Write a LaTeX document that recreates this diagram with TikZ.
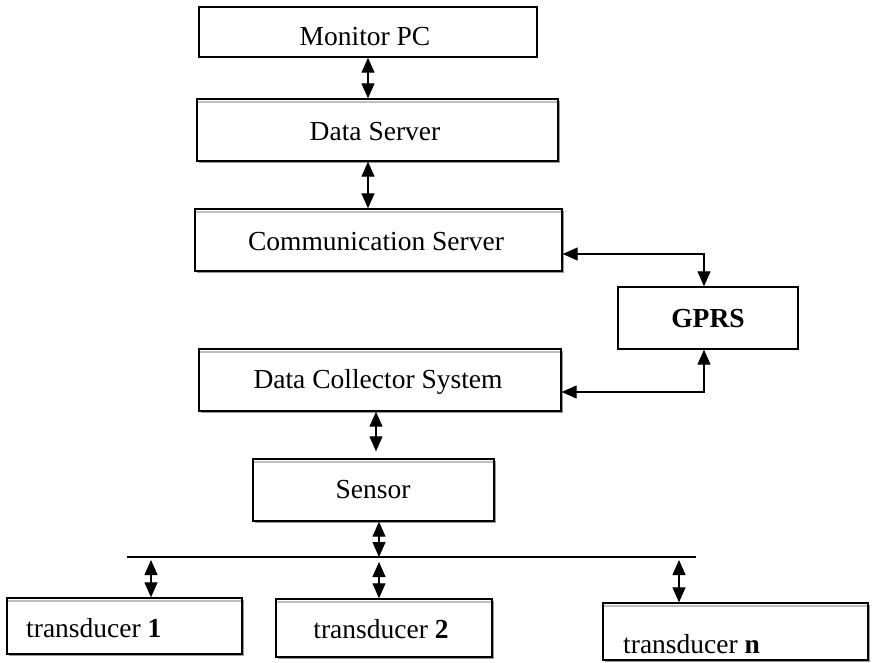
\documentclass[tikz,border=0pt]{standalone}
\usepackage{fontspec}
\setmainfont{Liberation Serif}
\usetikzlibrary{arrows.meta,shadows}

\tikzset{
  box/.style={draw, fill=white, line width=1.4pt, inner sep=0pt},
  shadedbox/.style={box,
    drop shadow={shadow xshift=1.6pt, shadow yshift=-1.6pt, fill=black!40, opacity=1},
    path picture={\draw[black!25, line width=1.4pt]
      ([yshift=-3pt]path picture bounding box.north west) --
      ([yshift=-3pt]path picture bounding box.north east);}},
  lbl/.style={font=\fontsize{27.5}{30}\selectfont, inner sep=0pt},
  dbl/.style={{Triangle[length=15pt,width=13pt]}-{Triangle[length=15pt,width=13pt]},
    line width=1.2pt},
  wire/.style={line width=1.2pt}
}

\begin{document}
\begin{tikzpicture}[x=1pt, y=-1pt]
  \useasboundingbox (0,0) rectangle (872,663);

  % boxes
  \node[box, minimum width=338pt, minimum height=50pt] (mon) at (368,32) {};
  \node[shadedbox, minimum width=361pt, minimum height=62pt] (ds) at (377.5,130) {};
  \node[shadedbox, minimum width=367pt, minimum height=62pt] (cs) at (378.5,240) {};
  \node[box, minimum width=180pt, minimum height=62pt] (gprs) at (708,318) {};
  \node[shadedbox, minimum width=362pt, minimum height=62pt] (dcs) at (380,380) {};
  \node[shadedbox, minimum width=241pt, minimum height=62pt] (sen) at (373.5,490) {};
  \node[shadedbox, minimum width=235pt, minimum height=56pt] (t1) at (124.5,626) {};
  \node[shadedbox, minimum width=216pt, minimum height=58pt] (t2) at (384,628) {};
  \node[shadedbox, minimum width=265pt, minimum height=57pt] (tn) at (735.5,631.5) {};

  % labels
  \node[lbl, anchor=base] (monT) at (365,46) {Monitor PC};
  \node[lbl, anchor=base] (dsT) at (375,141) {Data Server};
  \node[lbl, anchor=base] (csT) at (376,250) {Communication Server};
  \node[lbl, anchor=base] (gprsT) at (708,327) {\textbf{GPRS}};
  \node[lbl, anchor=base] (dcsT) at (378,388) {Data Collector System};
  \node[lbl, anchor=base] (senT) at (373,498) {Sensor};
  \node[lbl, anchor=base west] (t1T) at (26,637) {transducer \textbf{1}};
  \node[lbl, anchor=base] (t2T) at (381,638) {transducer \textbf{2}};
  \node[lbl, anchor=base west] (tnT) at (623,653) {transducer \textbf{n}};

  % bus and its tap points
  \coordinate (busW) at (127,557);
  \coordinate (busE) at (696,557);
  \coordinate (bus0) at (379,557);
  \coordinate (tap1) at (151,560);
  \coordinate (tap2) at (379,562);
  \coordinate (tapn) at (679,560);
  \draw[wire] (busW) -- (busE);

  % connectors
  \draw[dbl] (mon.south) -- (mon.south |- ds.north);
  \draw[dbl] (ds.south -| mon.south) -- (cs.north -| mon.south);
  \draw[dbl] ([yshift=-14pt]cs.east) -| ([xshift=-4pt]gprs.north);
  \draw[dbl] ([yshift=-12pt]dcs.east) -| ([xshift=-4pt]gprs.south);
  \draw[dbl, shorten >=7pt] ([xshift=-4pt]dcs.south) -- ([xshift=-4pt]dcs.south |- sen.north);
  \draw[dbl] (sen.south -| bus0) -- (bus0);
  \draw[dbl] (tap1) -- (tap1 |- t1.north);
  \draw[dbl] (tap2) -- (tap2 |- t2.north);
  \draw[dbl] (tapn) -- (tapn |- tn.north);
\end{tikzpicture}
\end{document}
